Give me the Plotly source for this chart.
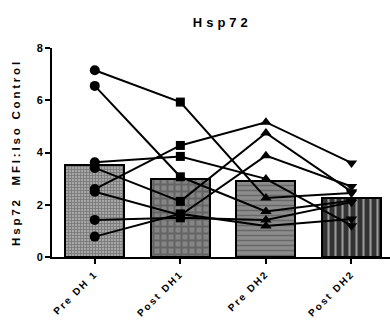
import plotly.graph_objects as go

categories = ["Pre DH 1", "Post DH1", "Pre DH2", "Post DH2"]
bar_means = [3.54, 3.0, 2.92, 2.27]

# each subject: values at Pre DH1, Post DH1, Pre DH2, Post DH2
subject_1 = [7.15, 5.93, 2.26, 2.45]
subject_2 = [6.55, 3.07, 1.74, 2.15]
subject_3 = [3.63, 3.85, 2.99, 1.20]
subject_4 = [3.41, 2.13, 4.75, 2.50]
subject_5 = [2.60, 4.27, 5.16, 3.60]
subject_6 = [2.50, 1.60, 3.88, 2.70]
subject_7 = [1.42, 1.50, 1.42, 2.10]
subject_8 = [0.78, 1.65, 1.19, 1.45]
subjects = [subject_1, subject_2, subject_3, subject_4,
            subject_5, subject_6, subject_7, subject_8]

symbols = ["circle", "square", "triangle-up", "triangle-down"]
xpos = list(range(len(categories)))

FONT = "Liberation Sans, Arial, sans-serif"

def spaced(t, s):
    return '<span style="letter-spacing:%spx">%s</span>' % (s, t)

fig = go.Figure()
fig.add_trace(go.Bar(
    x=xpos, y=bar_means, width=0.69,
    marker=dict(
        color=["#a6a6a6", "#858585", "#8c8c8c", "#333333"],
        line=dict(color="black", width=2),
        pattern=dict(
            shape=["+", "+", "-", "|"],
            fgcolor=["#111111", "#111111", "#2a2a2a", "#5c5c5c"],
            size=[3, 7, 5, 7],
            solidity=[0.45, 0.5, 0.3, 0.3],
            fillmode="overlay",
        ),
    ),
    showlegend=False, hoverinfo="skip",
))

for s in subjects:
    fig.add_trace(go.Scatter(
        x=xpos, y=s, mode="lines+markers",
        line=dict(color="black", width=2),
        marker=dict(symbol=symbols, size=[10, 9, 10, 10], color="black",
                    opacity=1, line=dict(width=0)),
        showlegend=False, cliponaxis=False,
    ))

fig.update_layout(
    width=390, height=324,
    margin=dict(l=52, r=0, t=48, b=67),
    plot_bgcolor="white", paper_bgcolor="white",
    font=dict(family=FONT, color="black"),
    title=dict(text="<b>" + spaced("Hsp72", 4) + "</b>", x=0.57, xanchor="center",
               y=0.945, yref="container", font=dict(size=13)),
    bargap=0,
)
fig.update_xaxes(
    range=[-0.5, 3.45], tickvals=xpos,
    ticktext=["<b>" + spaced(c, 2) + "</b>" for c in categories],
    tickangle=-45, tickfont=dict(size=10, weight="bold"),
    showline=True, linecolor="black", linewidth=2,
    ticks="outside", ticklen=5, tickwidth=2, tickcolor="black",
    showgrid=False, zeroline=False,
)
fig.update_yaxes(
    range=[0, 8], tickvals=[0, 2, 4, 6, 8],
    ticktext=["<b>%d</b>" % v for v in [0, 2, 4, 6, 8]],
    tickfont=dict(size=11, weight="bold"),
    showline=True, linecolor="black", linewidth=2,
    ticks="outside", ticklen=5, tickwidth=2, tickcolor="black",
    showgrid=False, zeroline=False,
    title=dict(text="<b>" + spaced("Hsp72  MFI:Iso Control", 2.8) + "</b>",
               font=dict(size=11.5), standoff=14),
)

fig.write_html("out.html")
